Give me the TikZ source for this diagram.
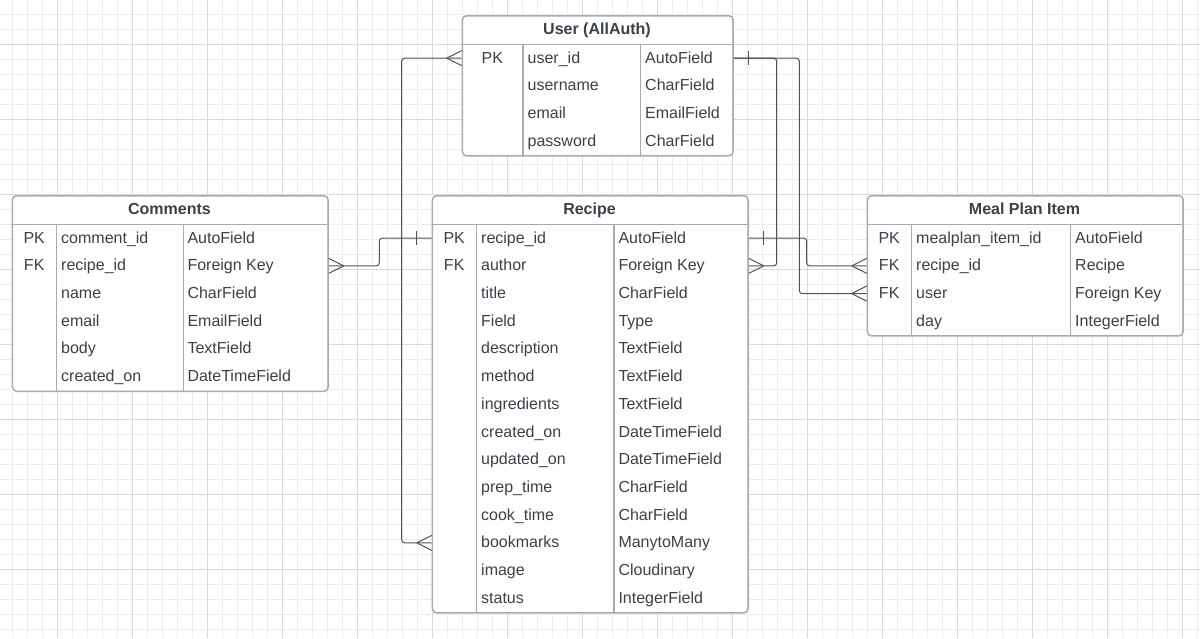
\documentclass[tikz,border=0pt]{standalone}
\usepackage{fontspec}
\setmainfont{Liberation Sans}
\definecolor{txt}{HTML}{3A414A}
\definecolor{bord}{HTML}{A7ABAF}
\definecolor{conncol}{HTML}{4F545B}
\definecolor{gmin}{HTML}{EDEDED}
\definecolor{gmaj}{HTML}{DADADA}
\tikzset{
  tbl/.style={draw=bord, line width=1.5pt, rounded corners=4pt, inner sep=0pt, anchor=north west},
  sepline/.style={draw=bord, line width=1.5pt},
  hdr/.style={anchor=base, inner sep=0pt, font=\fontsize{16}{19}\selectfont\bfseries, text=txt},
  cell/.style={anchor=base west, inner sep=0pt, font=\fontsize{16}{19}\selectfont, text=txt},
  keycell/.style={anchor=base, inner sep=0pt, font=\fontsize{16}{19}\selectfont, text=txt},
  conn/.style={draw=conncol, line width=1pt, rounded corners=3pt},
  foot/.style={draw=conncol, line width=1pt},
}
\begin{document}
\begin{tikzpicture}[x=1pt,y=-1pt]
\fill[white] (0,0) rectangle (1200,638);
\useasboundingbox (0,0) rectangle (1200,638);
% grid
\foreach \x in {12.3,27.3,...,1199} \draw[gmin, line width=0.9pt] (\x,0) -- (\x,638);
\foreach \y in {14,29,...,637} \draw[gmin, line width=0.9pt] (0,\y) -- (1200,\y);
\foreach \x in {57.3,132.3,...,1199} \draw[gmaj, line width=0.9pt] (\x,0) -- (\x,638);
\foreach \y in {44,119,...,637} \draw[gmaj, line width=0.9pt] (0,\y) -- (1200,\y);

% ---------- User ----------
\fill[white] (461.7,15) rectangle (732.3,155.1);
\node[tbl, minimum width=270.6pt, minimum height=140.1pt] (user) at (461.7,15) {};
\draw[sepline] (461.7,44.3) -- (732.3,44.3);
\draw[sepline] (523,44.3) -- (523,155.1);
\draw[sepline] (640.7,44.3) -- (640.7,155.1);
\node[hdr] (user-h) at (597,34.3) {User (AllAuth)};
\foreach \k/\f/\t [count=\i] in {PK/user\_id/AutoField, /username/CharField, /email/EmailField, /password/CharField}{
  \node[keycell] (user-k\i) at (492.4,{44.3+27.7*(\i-0.5)+5}) {\k};
  \node[cell] (user-f\i) at (527.5,{44.3+27.7*(\i-0.5)+5}) {\f};
  \node[cell] (user-t\i) at (645,{44.3+27.7*(\i-0.5)+5}) {\t};
}

% ---------- Comments ----------
\fill[white] (11.7,195) rectangle (327.3,390.5);
\node[tbl, minimum width=315.6pt, minimum height=195.5pt] (comm) at (11.7,195) {};
\draw[sepline] (11.7,224.3) -- (327.3,224.3);
\draw[sepline] (56.7,224.3) -- (56.7,390.5);
\draw[sepline] (183.3,224.3) -- (183.3,390.5);
\node[hdr] (comm-h) at (169.5,214.3) {Comments};
\foreach \k/\f/\t [count=\i] in {PK/comment\_id/AutoField, FK/recipe\_id/Foreign Key, /name/CharField, /email/EmailField, /body/TextField, /created\_on/DateTimeField}{
  \node[keycell] (comm-k\i) at (34.2,{224.3+27.7*(\i-0.5)+5}) {\k};
  \node[cell] (comm-f\i) at (61,{224.3+27.7*(\i-0.5)+5}) {\f};
  \node[cell] (comm-t\i) at (187.3,{224.3+27.7*(\i-0.5)+5}) {\t};
}

% ---------- Recipe ----------
\fill[white] (431.7,195) rectangle (747.3,612.1);
\node[tbl, minimum width=315.6pt, minimum height=417.1pt] (recipe) at (431.7,195) {};
\draw[sepline] (431.7,224.3) -- (747.3,224.3);
\draw[sepline] (476.7,224.3) -- (476.7,612.1);
\draw[sepline] (614,224.3) -- (614,612.1);
\node[hdr] (recipe-h) at (589.5,214.3) {Recipe};
\foreach \k/\f/\t [count=\i] in {PK/recipe\_id/AutoField, FK/author/Foreign Key, /title/CharField, /Field/Type, /description/TextField, /method/TextField, /ingredients/TextField, /created\_on/DateTimeField, /updated\_on/DateTimeField, /prep\_time/CharField, /cook\_time/CharField, /bookmarks/ManytoMany, /image/Cloudinary, /status/IntegerField}{
  \node[keycell] (recipe-k\i) at (454.2,{224.3+27.7*(\i-0.5)+5}) {\k};
  \node[cell] (recipe-f\i) at (481,{224.3+27.7*(\i-0.5)+5}) {\f};
  \node[cell] (recipe-t\i) at (618.3,{224.3+27.7*(\i-0.5)+5}) {\t};
}

% ---------- Meal Plan Item ----------
\fill[white] (866.7,195) rectangle (1182.3,335.1);
\node[tbl, minimum width=315.6pt, minimum height=140.1pt] (meal) at (866.7,195) {};
\draw[sepline] (866.7,224.3) -- (1182.3,224.3);
\draw[sepline] (911.7,224.3) -- (911.7,335.1);
\draw[sepline] (1070.7,224.3) -- (1070.7,335.1);
\node[hdr] (meal-h) at (1024.5,214.3) {Meal Plan Item};
\foreach \k/\f/\t [count=\i] in {PK/mealplan\_item\_id/AutoField, FK/recipe\_id/Recipe, FK/user/Foreign Key, /day/IntegerField}{
  \node[keycell] (meal-k\i) at (889.2,{224.3+27.7*(\i-0.5)+5}) {\k};
  \node[cell] (meal-f\i) at (916,{224.3+27.7*(\i-0.5)+5}) {\f};
  \node[cell] (meal-t\i) at (1075,{224.3+27.7*(\i-0.5)+5}) {\t};
}

% ---------- connection points ----------
\coordinate (pUL) at ([yshift=5pt]user.west |- user-f1.base);
\coordinate (pUR) at ([yshift=5pt]user.east |- user-f1.base);
\coordinate (pCR) at ([yshift=5pt]comm.east |- comm-f2.base);
\coordinate (pR1L) at ([yshift=5pt]recipe.west |- recipe-f1.base);
\coordinate (pR12L) at ([yshift=5pt]recipe.west |- recipe-f12.base);
\coordinate (pR1R) at ([yshift=5pt]recipe.east |- recipe-f1.base);
\coordinate (pR2R) at ([yshift=5pt]recipe.east |- recipe-f2.base);
\coordinate (pM2L) at ([yshift=5pt]meal.west |- meal-f2.base);
\coordinate (pM3L) at ([yshift=5pt]meal.west |- meal-f3.base);
\coordinate (bus1) at (401.7,300);
\coordinate (bus2) at (379.3,252);
\coordinate (bus3) at (776.7,150);
\coordinate (bus4) at (799.3,150);
\coordinate (bus5) at (806.7,250);

% ---------- connectors ----------
\draw[conn] (pUL) -| (bus1) |- (pR12L);
\draw[conn] (pCR) -| (bus2) |- (pR1L);
\draw[conn] (pUR) -| (bus3) |- (pR2R);
\draw[conn] (pUR) -| (bus4) |- (pM3L);
\draw[conn] (pR1R) -| (bus5) |- (pM2L);

% crow's feet (prongs at entity edge)
\draw[foot] (pUL) ++(-15,0) -- ++(15,-7.5) (pUL) ++(-15,0) -- ++(15,7.5);
\draw[foot] (pR12L) ++(-15,0) -- ++(15,-7.5) (pR12L) ++(-15,0) -- ++(15,7.5);
\draw[foot] (pCR) ++(15,0) -- ++(-15,-7.5) (pCR) ++(15,0) -- ++(-15,7.5);
\draw[foot] (pR2R) ++(15,0) -- ++(-15,-7.5) (pR2R) ++(15,0) -- ++(-15,7.5);
\draw[foot] (pM2L) ++(-15,0) -- ++(15,-7.5) (pM2L) ++(-15,0) -- ++(15,7.5);
\draw[foot] (pM3L) ++(-15,0) -- ++(15,-7.5) (pM3L) ++(-15,0) -- ++(15,7.5);
% ticks (one)
\draw[foot] (pUR) ++(15,-7) -- ++(0,14);
\draw[foot] (pR1L) ++(-15,-7) -- ++(0,14);
\draw[foot] (pR1R) ++(15,-7) -- ++(0,14);
\end{tikzpicture}
\end{document}
